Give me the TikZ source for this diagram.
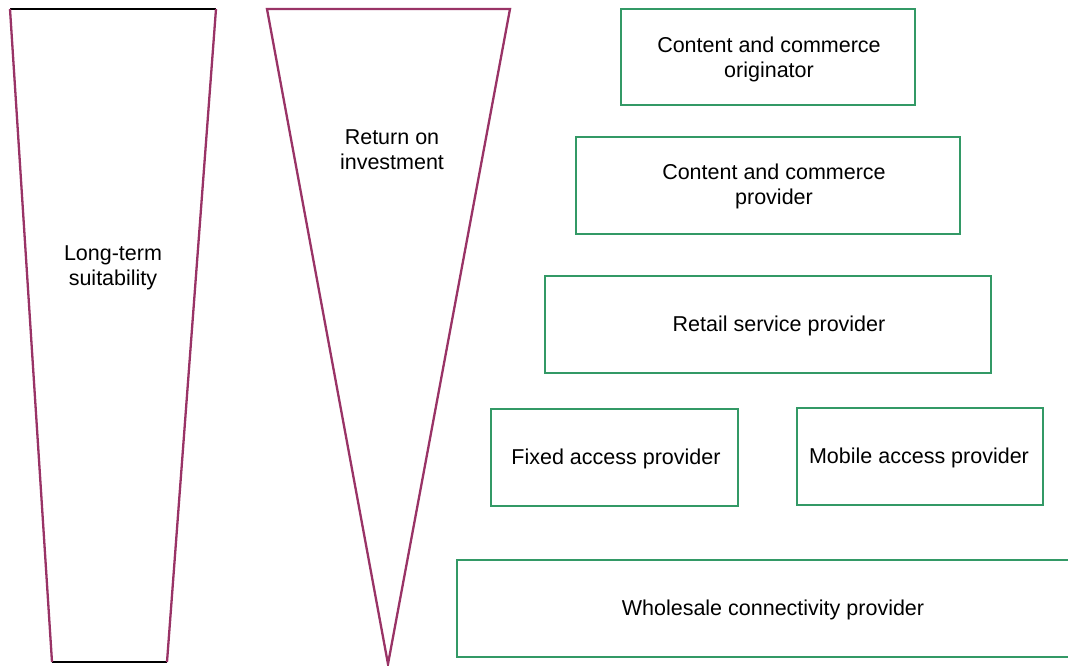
\documentclass[tikz,border=0pt]{standalone}
\usepackage{fontspec}
\setmainfont{Liberation Sans}
\definecolor{plum}{RGB}{153,51,102}
\definecolor{leaf}{RGB}{51,153,102}
\begin{document}
\begin{tikzpicture}[x=1pt,y=-1pt,
  txt/.style={align=center,inner sep=0pt,font=\fontsize{21.5}{25}\selectfont},
  layer/.style={draw=leaf,line width=2.4pt,rectangle,inner sep=0pt},
  funnel/.style={draw=plum,line width=2.3pt,line join=miter}]
\useasboundingbox (0,0) rectangle (1068,666);

% long-term suitability: narrowing trapezoid
\coordinate (tl) at (10,9);
\coordinate (tr) at (216,9);
\coordinate (br) at (167,662);
\coordinate (bl) at (52,662);
\draw[black,line width=1.8pt] (tl) -- (tr);
\draw[black,line width=1.8pt] (bl) -- (br);
\draw[funnel] (tl) -- (bl);
\draw[funnel] (tr) -- (br);
\node[txt] (lts) at (113,268) {Long-term\\suitability};

% return on investment: inverted triangle
\coordinate (ra) at (267,9);
\coordinate (rb) at (510,9);
\coordinate (rc) at (388,664);
\draw[funnel] (ra) -- (rb) -- (rc) -- cycle;
\node[txt] (roi) at (392,150) {Return on\\investment};

% value-chain layers
\node[layer,minimum width=294pt,minimum height=96pt] (b1) at (768,57) {};
\node[txt] (t1) at (769,59) {Content and commerce\\originator};

\node[layer,minimum width=384pt,minimum height=97pt] (b2) at (768,185.5) {};
\node[txt] (t2) at (774,186) {Content and commerce\\provider};

\node[layer,minimum width=446pt,minimum height=97pt] (b3) at (768,324.5) {};
\node[txt] (t3) at (779,326) {Retail service provider};

\node[layer,minimum width=247pt,minimum height=97pt] (b4) at (614.5,457.5) {};
\node[txt] (t4) at (616,459) {Fixed access provider};

\node[layer,minimum width=246pt,minimum height=97pt] (b5) at (920,456.5) {};
\node[txt] (t5) at (919,458) {Mobile access provider};

\node[layer,minimum width=633pt,minimum height=97pt] (b6) at (773.5,608.5) {};
\node[txt] (t6) at (773,610) {Wholesale connectivity provider};
\end{tikzpicture}
\end{document}
